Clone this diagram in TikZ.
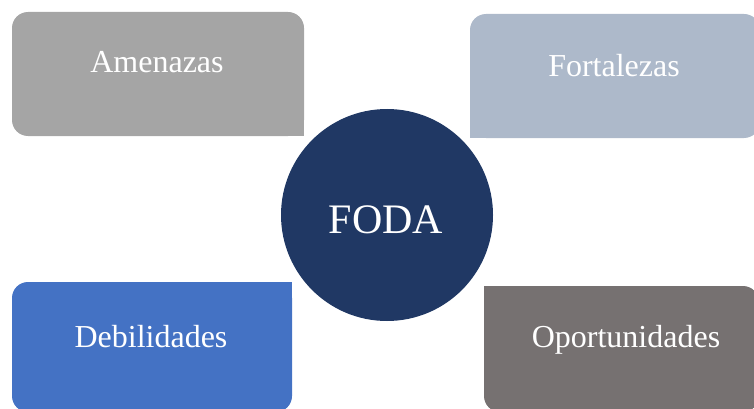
\documentclass[tikz,border=0pt]{standalone}
\usepackage{fontspec}
\setmainfont{Liberation Serif}
\usepackage{tikz}

\definecolor{amengray}{HTML}{A5A5A5}
\definecolor{fortblue}{HTML}{ADB9CA}
\definecolor{debiblue}{HTML}{4472C4}
\definecolor{oporgray}{HTML}{767171}
\definecolor{fodanavy}{HTML}{203864}

\begin{document}
\begin{tikzpicture}[x=1pt,y=-1pt,
  box/.style={rectangle,rounded corners=16pt,inner sep=0pt,outer sep=0pt},
  word/.style={text=white,font=\fontsize{32}{38}\selectfont,anchor=base}]

\useasboundingbox (0,0) rectangle (754,409);

% definitions
\node[box,fill=amengray,minimum width=292pt,minimum height=124pt] (amen) at (158,74) {};
\node[box,fill=fortblue,minimum width=290pt,minimum height=124pt] (fort) at (615,76) {};
\node[box,fill=debiblue,minimum width=280pt,minimum height=130pt] (debi) at (152,347) {};
\node[box,fill=oporgray,minimum width=275pt,minimum height=126pt] (opor) at (621.5,349) {};

% square corners toward the circle
\fill[amengray] (amen.south east) rectangle ++(-20,-20);
\fill[fortblue] (fort.south west) rectangle ++(20,-20);
\fill[debiblue] (debi.north east) rectangle ++(-20,20);
\fill[oporgray] (opor.north west) rectangle ++(20,20);

\node[circle,fill=fodanavy,minimum size=212pt,inner sep=0pt] (foda) at (387,215) {};

% labels
\node[word] (amentext) at (157,73) {Amenazas};
\node[word] (forttext) at (614,77) {Fortalezas};
\node[word] (debitext) at (151,347) {Debilidades};
\node[word] (oportext) at (626,347) {Oportunidades};
\node[word,font=\fontsize{42}{48}\selectfont] (fodatext) at (386,233) {FODA};
\end{tikzpicture}
\end{document}
